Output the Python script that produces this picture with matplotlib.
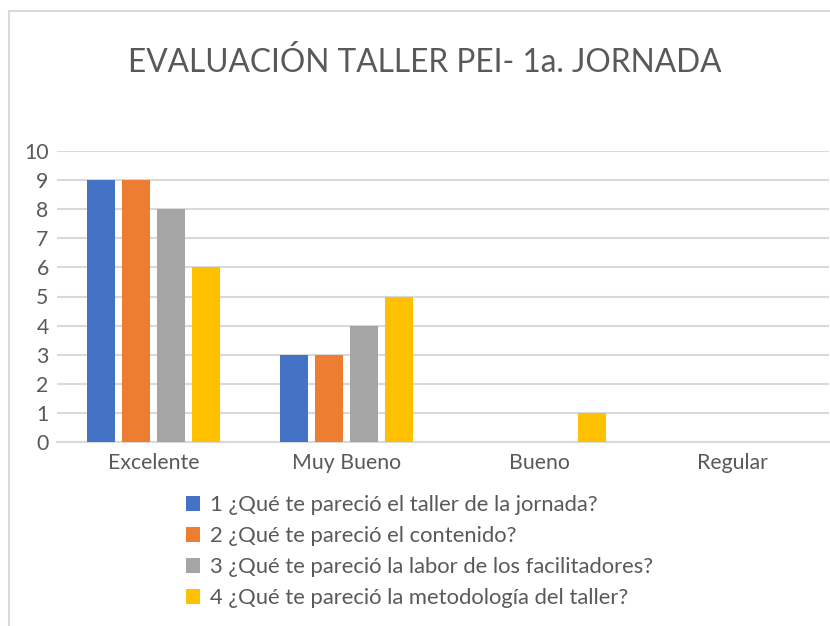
import numpy as np
import matplotlib.pyplot as plt
from matplotlib.patches import Rectangle

plt.rcParams['font.family'] = ['Lato', 'DejaVu Sans']

categories = ["Excelente", "Muy Bueno", "Bueno", "Regular"]
series_names = [
    "1 ¿Qué te pareció el taller de la jornada?",
    "2 ¿Qué te pareció el contenido?",
    "3 ¿Qué te pareció la labor de los facilitadores?",
    "4 ¿Qué te pareció la metodología del taller?",
]
q1 = [9, 3, 0, 0]
q2 = [9, 3, 0, 0]
q3 = [8, 4, 0, 0]
q4 = [6, 5, 1, 0]
yticks = list(range(0, 11))

colors = ["#4472C4", "#ED7D31", "#A5A5A5", "#FFC000"]
text_color = "#595959"
grid_color = "#D9D9D9"

fig = plt.figure(figsize=(8.3, 6.26), dpi=100)

# chart border (only left/top visible in the crop)
fig.patches.append(Rectangle((9 / 830, -0.1), 1.2, (626 - 11) / 626 + 0.1,
                             transform=fig.transFigure, fill=False,
                             edgecolor=grid_color, linewidth=1.5))

ax = fig.add_axes([57 / 830, 1 - 442 / 626, 772 / 830, 291 / 626])

x = np.arange(len(categories))
step = 0.181
width = 0.145
for i, (vals, name) in enumerate(zip([q1, q2, q3, q4], series_names)):
    ax.bar(x + (i - 1.5) * step, vals, width, color=colors[i], label=name, zorder=3)

ax.set_xlim(-0.5, len(categories) - 0.5)
ax.set_ylim(0, 10)
ax.set_yticks(yticks)
ax.set_xticks(x)
ax.set_xticklabels(categories)
ax.tick_params(axis='both', length=0, labelsize=15.3, labelcolor=text_color)
ax.tick_params(axis='x', pad=8)
ax.tick_params(axis='y', pad=6)
ax.grid(axis='y', color=grid_color, linewidth=1.5, zorder=0)
for s in ['top', 'right', 'left']:
    ax.spines[s].set_visible(False)
ax.spines['bottom'].set_color(grid_color)
ax.spines['bottom'].set_linewidth(1.5)

fig.text(425 / 830, 1 - 62 / 626, "EVALUACIÓN TALLER PEI- 1a. JORNADA",
         ha='center', va='center', fontsize=22.8, color=text_color)

leg = fig.legend(loc='upper left', bbox_to_anchor=(186 / 830, 1 - 495 / 626),
                 frameon=False, fontsize=15.8, handlelength=0.65, handleheight=0.65,
                 handletextpad=0.45, labelspacing=0.5, borderpad=0, borderaxespad=0)
for t in leg.get_texts():
    t.set_color(text_color)

fig.savefig("out.png", dpi=100)
